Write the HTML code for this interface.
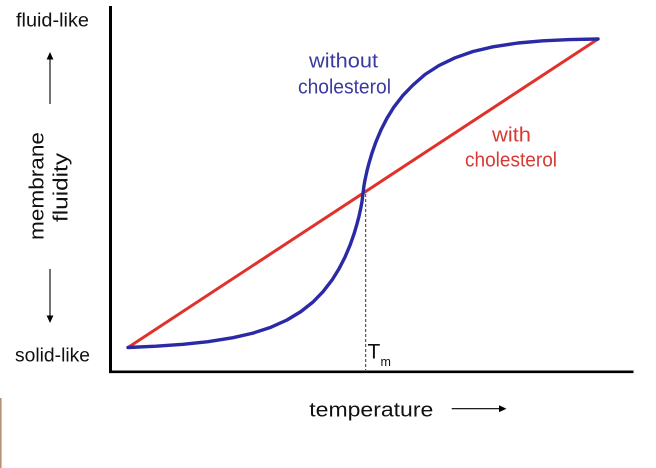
<!DOCTYPE html>
<html><head><meta charset="utf-8"><style>
html,body{margin:0;padding:0;background:#fff;}
svg{display:block;}
text{font-family:"Liberation Sans",sans-serif;}
</style></head><body>
<svg width="656" height="468" viewBox="0 0 656 468" xmlns="http://www.w3.org/2000/svg">
<rect width="656" height="468" fill="#fff"/>
<!-- left brown edge -->
<rect x="0" y="398" width="1.6" height="70" fill="#b89274"/>
<!-- axes -->
<line x1="110.5" y1="6" x2="110.5" y2="373" stroke="#000" stroke-width="3"/>
<line x1="109" y1="371.8" x2="633.5" y2="371.8" stroke="#000" stroke-width="2.6"/>
<!-- dashed Tm line -->
<line x1="365.7" y1="194" x2="365.7" y2="370" stroke="#333" stroke-width="1" stroke-dasharray="3,2"/>
<!-- red line -->
<line x1="128" y1="347.5" x2="598" y2="39" stroke="#e0322a" stroke-width="3" stroke-linecap="round"/>
<!-- blue curve -->
<polyline fill="none" stroke="#2a2aa6" stroke-width="3.4" stroke-linejoin="round" stroke-linecap="round" points="
128,347.5 156,346.2 183,344.3 208,341.7 233,337.7 253,333.1 271,327.2 287,320.0 301,311.5 313,302.0 323,291.7 332,280.1 339,268.8 345,257.1 350,245.3 354,234.0 357,223.9 359,216.2 361,207.0 362,201.4 363,193.5
364,185.6 365,180.0 367,170.8 369,163.1 372,153.0 376,141.7 381,129.9 387,118.2 394,106.9 403,95.3 413,85.0 425,74.5 439,65.5 455,57.8 473,51.5 493,46.8 518,43.0 543,40.8 570,39.6 598,39"/>
<!-- series labels -->
<text x="309" y="67.5" font-size="20" fill="#3a3aa2" textLength="69" lengthAdjust="spacingAndGlyphs">without</text>
<text x="298" y="93.5" font-size="20" fill="#3a3aa2" textLength="93" lengthAdjust="spacingAndGlyphs">cholesterol</text>
<text x="492" y="141.5" font-size="20" fill="#d83a34" textLength="39" lengthAdjust="spacingAndGlyphs">with</text>
<text x="465" y="166.5" font-size="20" fill="#d83a34" textLength="92" lengthAdjust="spacingAndGlyphs">cholesterol</text>
<!-- y labels -->
<text x="16" y="26.7" font-size="19" fill="#111" textLength="73" lengthAdjust="spacingAndGlyphs">fluid-like</text>
<text x="15" y="361.5" font-size="19" fill="#111" textLength="75" lengthAdjust="spacingAndGlyphs">solid-like</text>
<!-- up arrow -->
<line x1="50" y1="58" x2="50" y2="104" stroke="#000" stroke-width="1.1"/>
<polygon points="50,52 46.6,59.5 53.4,59.5" fill="#000"/>
<!-- down arrow -->
<line x1="50" y1="269" x2="50" y2="317" stroke="#000" stroke-width="1.1"/>
<polygon points="50,323 46.6,315.5 53.4,315.5" fill="#000"/>
<!-- rotated labels -->
<text transform="translate(43.5,186) rotate(-90)" text-anchor="middle" font-size="20" fill="#111" textLength="108" lengthAdjust="spacingAndGlyphs">membrane</text>
<text transform="translate(67.5,187.5) rotate(-90)" text-anchor="middle" font-size="20" fill="#111" textLength="69" lengthAdjust="spacingAndGlyphs">fluidity</text>
<!-- x label -->
<text x="309.3" y="416.5" font-size="20" fill="#111" textLength="124" lengthAdjust="spacingAndGlyphs">temperature</text>
<line x1="451.7" y1="408.7" x2="501" y2="408.7" stroke="#000" stroke-width="1.1"/>
<polygon points="506.5,408.7 499,405.3 499,412.1" fill="#000"/>
<!-- Tm -->
<text x="367.5" y="358.3" font-size="21" fill="#111">T</text>
<text x="380.5" y="366" font-size="12.5" fill="#111">m</text>
</svg>
</body></html>
